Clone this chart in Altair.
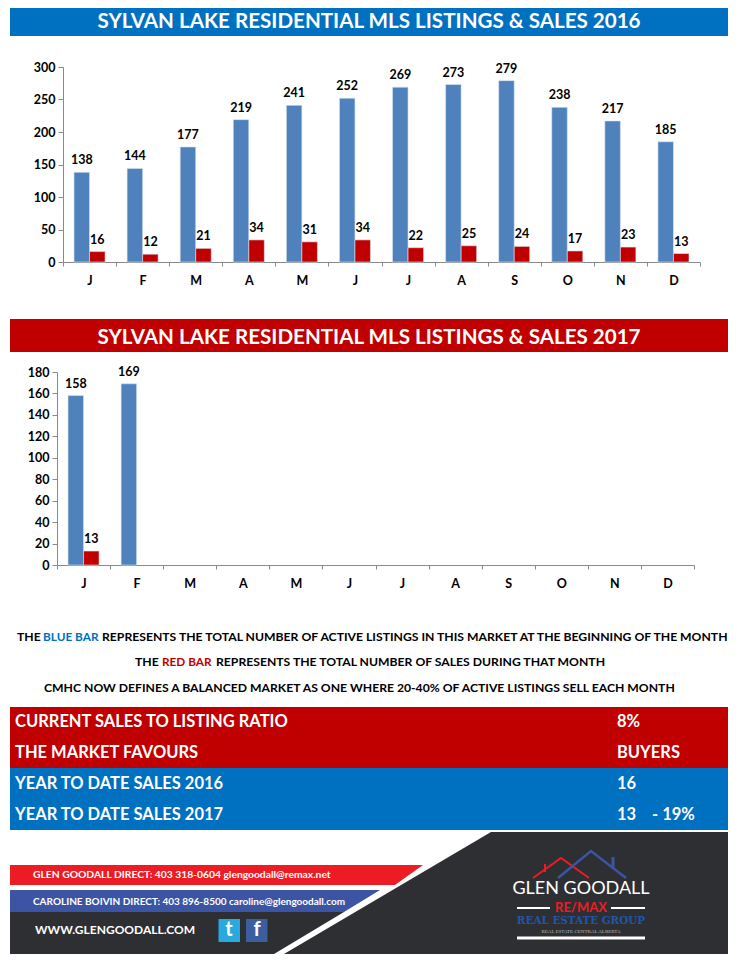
import altair as alt
import pandas as pd

MONTHS = ["January","February","March","April","May","June","July","August","September","October","November","December"]
LISTINGS_2016 = [138,144,177,219,241,252,269,273,279,238,217,185]
SALES_2016 = [16,12,21,34,31,34,22,25,24,17,23,13]
LISTINGS_2017 = [158,169]
SALES_2017 = [13]
BLUE, RED, BANNER_BLUE, BANNER_RED = "#4F81BD", "#C00000", "#0070C0", "#C00000"
FONT = "Lato"
W = 718


def long_table(listings, sales):
    rows = [{"month": MONTHS[i], "series": "Listings", "value": v} for i, v in enumerate(listings)]
    rows += [{"month": MONTHS[i], "series": "Sales", "value": v} for i, v in enumerate(sales)]
    return pd.DataFrame(rows)


def bars(df, ymax, ystep, x_left, top, bottom, height):
    x = alt.X("month:N", sort=MONTHS, title=None,
              scale=alt.Scale(domain=MONTHS, range=[x_left, x_left + 637], paddingInner=0, paddingOuter=0),
              axis=alt.Axis(labelExpr="slice(datum.label,0,1)", labelAngle=0, tickBand="extent", offset=bottom - height,
                            domainColor="#8A8A8A", tickColor="#8A8A8A", tickSize=4, labelPadding=8,
                            labelFont=FONT, labelFontWeight="bold", labelFontSize=12.5, labelColor="#000000",
                            grid=False))
    y = alt.Y("value:Q", title=None,
              scale=alt.Scale(domain=[0, ymax], range=[bottom, top], nice=False),
              axis=alt.Axis(values=list(range(0, ymax + 1, ystep)), offset=-x_left, domainColor="#8A8A8A",
                            tickColor="#8A8A8A", tickSize=5, labelPadding=3, grid=False, labelOverlap=False,
                            labelFont=FONT, labelFontWeight="bold", labelFontSize=12.5, labelColor="#000000"))
    off = alt.XOffset("series:N", sort=["Listings", "Sales"],
                      scale=alt.Scale(domain=["Listings", "Sales"], paddingInner=0, paddingOuter=0.71))
    color = alt.Color("series:N", legend=None, scale=alt.Scale(domain=["Listings", "Sales"], range=[BLUE, RED]))
    b = alt.Chart(df).mark_bar(stroke="#DCE6F2", strokeWidth=0.6).encode(x=x, xOffset=off, y=y, color=color)
    t = alt.Chart(df).mark_text(font=FONT, fontWeight="bold", fontSize=12.5, color="#000000", baseline="bottom", dy=-5).encode(
        x=x, xOffset=off, y=y, text="value:Q")
    return alt.layer(b, t).properties(width=W, height=height)


PX = alt.Scale(domain=[10, 10 + W], range=[0, W])


def yscale(y0, y1):
    return alt.Scale(domain=[y0, y1], range=[0, y1 - y0])


def text_layer(y0, y1, xs, ys, texts, color="#000000", size=13, align="left", font=FONT, weight="bold"):
    df = pd.DataFrame({"x": xs, "y": ys, "t": texts})
    return alt.Chart(df).mark_text(font=font, fontWeight=weight, fontSize=size, color=color, align=align, baseline="middle").encode(
        x=alt.X("x:Q", scale=PX, axis=None), y=alt.Y("y:Q", scale=yscale(y0, y1), axis=None), text="t:N")


def band(y0, y1, ya, yb, fill, xa=10, xb=10 + W):
    df = pd.DataFrame({"xa": [xa], "xb": [xb], "ya": [ya], "yb": [yb]})
    return alt.Chart(df).mark_rect(color=fill).encode(
        x=alt.X("xa:Q", scale=PX, axis=None), x2="xb:Q",
        y=alt.Y("ya:Q", scale=yscale(y0, y1), axis=None), y2="yb:Q")


def poly(y0, y1, ys, lefts, rights, fill):
    df = pd.DataFrame({"y": ys, "l": lefts, "r": rights})
    return alt.Chart(df).mark_area(color=fill, orient="horizontal", opacity=1).encode(
        y=alt.Y("y:Q", scale=yscale(y0, y1), axis=None),
        x=alt.X("l:Q", scale=PX, axis=None), x2="r:Q")


def polyline(y0, y1, xs, ys, color, width):
    df = pd.DataFrame({"x": xs, "y": ys, "o": list(range(len(xs)))})
    return alt.Chart(df).mark_line(color=color, strokeWidth=width).encode(
        x=alt.X("x:Q", scale=PX, axis=None), y=alt.Y("y:Q", scale=yscale(y0, y1), axis=None), order="o:O")


def banner(y0, y1, text, fill, yc):
    return alt.layer(band(y0, y1, y0, y1, fill),
                     text_layer(y0, y1, [369], [yc], [text], "#FFFFFF", 20.6, "center")).properties(width=W, height=y1 - y0)


TITLE_2016 = "SYLVAN LAKE RESIDENTIAL MLS LISTINGS & SALES 2016"
TITLE_2017 = "SYLVAN LAKE RESIDENTIAL MLS LISTINGS & SALES 2017"

b1 = banner(8, 36, TITLE_2016, BANNER_BLUE, 22)
c1 = bars(long_table(LISTINGS_2016, SALES_2016), 300, 50, 53, 31, 226, 283)
b2 = banner(319, 352, TITLE_2017, BANNER_RED, 338)
c2 = bars(long_table(LISTINGS_2017, SALES_2017), 180, 20, 47, 20, 213, 268)

# explanatory text
T0, T1 = 620, 707
txt = alt.layer(
    text_layer(T0, T1, [17, 102, 135, 216, 44],
               [637, 637, 662, 662, 688],
               ["THE", "REPRESENTS THE TOTAL NUMBER OF ACTIVE LISTINGS IN THIS MARKET AT THE BEGINNING OF THE MONTH",
                "THE", "REPRESENTS THE TOTAL NUMBER OF SALES DURING THAT MONTH",
                "CMHC NOW DEFINES A BALANCED MARKET AS ONE WHERE 20-40% OF ACTIVE LISTINGS SELL EACH MONTH"], size=12.2),
    text_layer(T0, T1, [43], [637], ["BLUE BAR"], BANNER_BLUE, 11.8),
    text_layer(T0, T1, [162], [662], ["RED BAR"], RED, 11.8),
).properties(width=W, height=T1 - T0)

# summary table
S0, S1 = 707, 830
LABELS = ["CURRENT SALES TO LISTING RATIO", "THE MARKET FAVOURS", "YEAR TO DATE SALES 2016", "YEAR TO DATE SALES 2017"]
VALUES = ["8%", "BUYERS", "16", "13"]
ROW_Y = [722, 753, 784, 815]
summary = alt.layer(
    band(S0, S1, 707, 768, BANNER_RED),
    band(S0, S1, 768, 830, BANNER_BLUE),
    text_layer(S0, S1, [15] * 4, ROW_Y, LABELS, "#FFFFFF", 16.5),
    text_layer(S0, S1, [617] * 4, ROW_Y, VALUES, "#FFFFFF", 16.5),
    text_layer(S0, S1, [652], [815], ["- 19%"], "#FFFFFF", 16.5),
).properties(width=W, height=S1 - S0)

# footer
F0, F1 = 830, 954
DARK = "#2E2F33"
footer = alt.layer(
    poly(F0, F1, [832, 954], [491, 284], [728, 728], DARK),
    poly(F0, F1, [912, 954], [10, 10], [344, 274], DARK),
    poly(F0, F1, [865, 885], [10, 10], [423, 395], "#ED1C24"),
    poly(F0, F1, [890, 912], [10, 10], [380, 344], "#3B54A4"),
    text_layer(F0, F1, [33], [875], ["GLEN GOODALL  DIRECT: 403 318-0604  glengoodall@remax.net"], "#FFFFFF", 10.3),
    text_layer(F0, F1, [33], [902], ["CAROLINE BOIVIN DIRECT: 403 896-8500 caroline@glengoodall.com"], "#FFFFFF", 10),
    text_layer(F0, F1, [35], [930], ["WWW.GLENGOODALL.COM"], "#FFFFFF", 12),
    band(F0, F1, 919, 942, "#29A9E0", 218.5, 240),
    band(F0, F1, 919, 942, "#3B5F9E", 246, 267.5),
    text_layer(F0, F1, [229, 257], [930, 930], ["t", "f"], "#FFFFFF", 20, "center"),
    polyline(F0, F1, [533, 561, 589], [878, 858, 878], "#ED1C24", 2),
    polyline(F0, F1, [545, 545], [872, 864], "#ED1C24", 2),
    polyline(F0, F1, [558, 591, 626], [878, 851, 878], "#3B54A4", 2.5),
    polyline(F0, F1, [613, 613], [868, 857], "#3B54A4", 3),
    text_layer(F0, F1, [581], [889], ["GLEN GOODALL"], "#FFFFFF", 18, "center", FONT, "normal"),
    text_layer(F0, F1, [581], [908], ["RE/MAX"], "#ED1C24", 13, "center", FONT, "bold"),
    polyline(F0, F1, [517, 550], [908, 908], "#FFFFFF", 2),
    polyline(F0, F1, [611, 645], [908, 908], "#FFFFFF", 2),
    text_layer(F0, F1, [581], [921], ["REAL ESTATE GROUP"], "#2255AA", 10.4, "center", "DejaVu Serif", "bold"),
    text_layer(F0, F1, [581], [931], ["REAL ESTATE CENTRAL ALBERTA"], "#BBBBBB", 5, "center", "Liberation Serif", "normal"),
    polyline(F0, F1, [517, 645], [938, 938], "#FFFFFF", 3),
).properties(width=W, height=F1 - F0)

chart = alt.vconcat(b1, c1, b2, c2, txt, summary, footer, spacing=0, bounds="flush").properties(
    padding={"left": 2, "top": 0, "right": 0, "bottom": 0}
).configure_view(stroke=None).resolve_scale(x="independent", y="independent")

chart.save("out.html", embed_options={"renderer": "svg", "actions": False})
